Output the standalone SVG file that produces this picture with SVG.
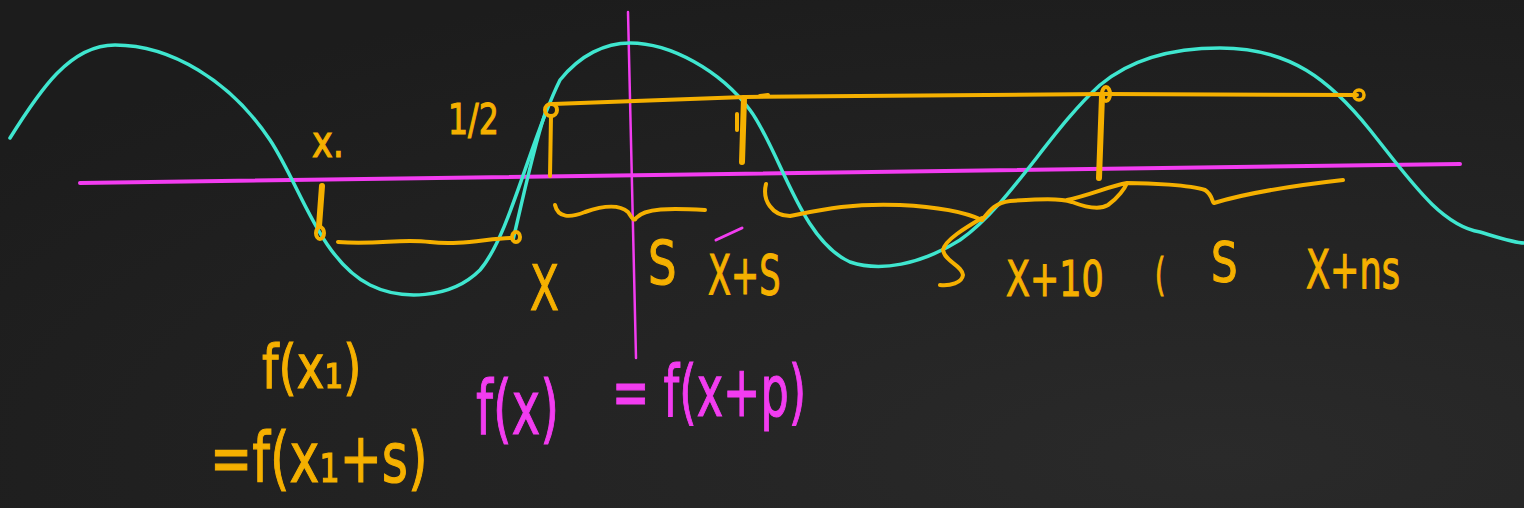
<svg xmlns="http://www.w3.org/2000/svg" width="1524" height="508" viewBox="0 0 1524 508">
<defs>
<radialGradient id="bg" cx="0.8" cy="0.9" r="1">
<stop offset="0" stop-color="#2a2a2a"/>
<stop offset="1" stop-color="#1c1c1c"/>
</radialGradient>
<style>
.cy{fill:none;stroke:#3fe6cf;stroke-width:3.5;stroke-linecap:round;stroke-linejoin:round}
.mg{fill:none;stroke:#f23cf0;stroke-linecap:round}
.or{fill:none;stroke:#f5b000;stroke-width:4;stroke-linecap:round;stroke-linejoin:round}
.ort{fill:none;stroke:#f5b000;stroke-width:6;stroke-linecap:round}
.to{fill:#f5b000;stroke:#f5b000;stroke-width:1.2;font-family:"DejaVu Sans",sans-serif;font-weight:normal}
.tm{fill:#f23cf0;stroke:#f23cf0;stroke-width:1.2;font-family:"DejaVu Sans",sans-serif;font-weight:normal}
</style>
</defs>
<rect width="1524" height="508" fill="url(#bg)"/>

<g id="axes">
<path class="mg" stroke-width="4" d="M80,183 L1460,164"/>
<path class="mg" stroke-width="2.5" d="M628,12 L636,358"/>
<path class="mg" stroke-width="3" d="M716,240 L742,228"/>
</g>

<g id="curve">
<path class="cy" d="M10,138 C40,90 70,45 115,45 C170,45 230,80 270,140 C300,185 320,260 370,285 C400,300 450,300 480,270 C510,235 530,140 560,80 C580,55 605,43 630,43 C670,43 720,70 750,110 C780,150 800,240 850,262 C880,272 920,265 960,240 C1010,205 1050,130 1100,85 C1130,60 1170,48 1220,48 C1290,48 1330,80 1370,130 C1410,180 1440,225 1480,232 C1500,238 1515,243 1524,243"/>
<path class="cy" d="M513,240 C525,190 535,140 548,105"/>
</g>

<g id="marks">
<path class="or" d="M553,104 L745,97 L1105,94 L1357,95"/>
<circle cx="551" cy="110" r="6" fill="none" stroke="#f5b000" stroke-width="4"/>
<circle cx="1359" cy="95" r="5" fill="none" stroke="#f5b000" stroke-width="3.5"/>
<ellipse cx="1106" cy="94" rx="4" ry="7" fill="none" stroke="#f5b000" stroke-width="4"/>
<ellipse cx="320" cy="233" rx="4" ry="6" fill="none" stroke="#f5b000" stroke-width="4"/>
<ellipse cx="516" cy="237" rx="4" ry="5" fill="none" stroke="#f5b000" stroke-width="4"/>
<path class="or" d="M551,116 L550,176"/>
<path class="ort" d="M744,98 L742,162"/>
<path class="or" d="M737,114 L737,130"/>
<path class="or" stroke-width="2" d="M760,96 L768,95"/>
<path class="ort" d="M1102,96 L1099,178"/>
<path class="ort" d="M322,186 L319,226"/>
<path class="or" d="M338,242 C380,245 400,238 430,242 C460,246 490,238 512,238"/>
<path class="or" d="M555,205 C558,218 570,218 585,212 C605,205 620,205 628,212 C632,218 634,222 636,218 C645,208 670,208 705,210"/>
<path class="or" d="M766,184 C762,200 772,216 790,216 C820,210 850,203 900,205 C940,207 965,212 982,220"/>
<path class="or" d="M982,218 C965,228 945,240 943,250 C945,262 962,265 963,275 C962,283 950,286 940,285"/>
<path class="or" d="M982,220 C990,210 995,203 1010,201 C1040,199 1060,198 1072,202 C1085,207 1100,210 1108,205 C1118,198 1125,188 1127,183 M1067,200 C1090,195 1110,186 1127,183 C1150,183 1190,185 1205,190 C1213,195 1212,203 1214,203 C1240,195 1290,186 1343,180"/>
</g>

<g id="labels">
<text class="to" x="312" y="157" font-size="44" transform="translate(312,157) scale(0.8,1) translate(-312,-157)">x.</text>
<text class="to" x="448" y="134" font-size="42" transform="translate(448,134) scale(0.75,1) translate(-448,-134)">1/2</text>
<text class="to" x="530" y="310" font-size="62" transform="translate(530,310) scale(0.68,1) translate(-530,-310)">X</text>
<text class="to" x="648" y="284" font-size="60" transform="translate(648,284) scale(0.75,1) translate(-648,-284)">S</text>
<text class="to" x="708" y="294" font-size="56" transform="translate(708,294) scale(0.6,1) translate(-708,-294)">X+S</text>
<text class="to" x="1006" y="296" font-size="50" transform="translate(1006,296) scale(0.7,1) translate(-1006,-296)">X+10</text>
<text class="to" x="1155" y="290" font-size="44" transform="translate(1155,290) scale(0.6,1) translate(-1155,-290)">(</text>
<text class="to" x="1211" y="281" font-size="56" transform="translate(1211,281) scale(0.75,1) translate(-1211,-281)">S</text>
<text class="to" x="1306" y="288" font-size="54" transform="translate(1306,288) scale(0.65,1) translate(-1306,-288)">X+ns</text>
<text class="to" x="262" y="388" font-size="60" transform="translate(262,388) scale(0.78,1) translate(-262,-388)">f(x₁)</text>
<text class="to" x="210" y="482" font-size="70" transform="translate(210,482) scale(0.72,1) translate(-210,-482)">=f(x₁+s)</text>
<text class="tm" x="476" y="434" font-size="74" transform="translate(476,434) scale(0.65,1) translate(-476,-434)">f(x)</text>
<text class="tm" x="612" y="416" font-size="72" transform="translate(612,416) scale(0.62,1) translate(-612,-416)">= f(x+p)</text>
</g>
</svg>
